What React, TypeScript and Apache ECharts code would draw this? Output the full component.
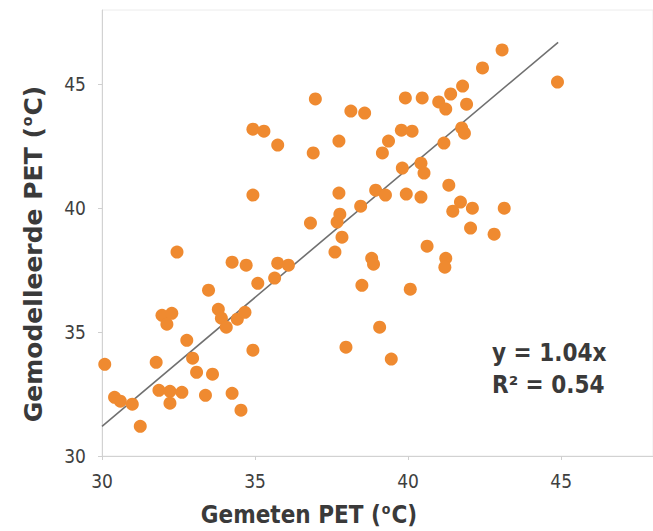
import React, { useEffect, useRef } from "react";
import * as echarts from "echarts";

const xMeasured = [
  30.09, 30.41, 30.6, 30.99, 31.25, 31.77, 31.86, 32.22, 32.22, 32.61,
  31.96, 32.12, 32.28, 32.45, 32.77, 32.96, 33.09, 33.38, 33.48, 33.61,
  33.8, 33.9, 34.06, 34.25, 34.25, 34.42, 34.54, 34.67, 34.71, 34.93,
  35.09, 35.64, 35.74, 36.09, 36.81, 37.61, 37.68, 37.77, 37.84, 37.97,
  38.49, 38.81, 38.87, 39.07, 39.45, 40.07, 40.62, 41.23, 41.2, 42.04,
  42.81, 36.97, 38.13, 38.58, 34.93, 35.29, 35.74, 36.9, 37.74, 34.93,
  37.74, 38.45, 39.91, 39.78, 40.13, 39.36, 39.16, 39.81, 38.94, 39.26,
  39.94, 40.42, 40.46, 41.0, 41.23, 41.39, 41.78, 41.91, 42.43, 43.07,
  44.88, 41.75, 41.84, 41.17, 40.42, 40.52, 41.33, 41.71, 41.46, 42.1,
  43.14,
];
const yModelled = [
  33.7, 32.37, 32.21, 32.09, 31.2, 33.78, 32.65, 32.61, 32.13, 32.57,
  35.68, 35.32, 35.76, 38.23, 34.67, 33.95, 33.38, 32.45, 36.69, 33.3,
  35.92, 35.56, 35.2, 37.82, 32.53, 35.52, 31.85, 35.8, 37.7, 34.27,
  36.97, 37.18, 37.78, 37.7, 39.4, 38.23, 39.44, 39.76, 38.83, 34.39,
  36.89, 37.98, 37.74, 35.2, 33.91, 36.73, 38.47, 37.98, 37.62, 39.2,
  38.95, 44.41, 43.92, 43.84, 43.19, 43.11, 42.55, 42.23, 42.71, 40.53,
  40.61, 40.08, 44.45, 43.15, 43.11, 42.71, 42.23, 41.62, 40.73, 40.53,
  40.57, 40.45, 44.45, 44.29, 44.0, 44.61, 44.93, 44.2, 45.66, 46.39,
  45.09, 43.24, 43.03, 42.63, 41.82, 41.42, 40.93, 40.25, 39.88, 40.0,
  40.0,
];
const xTicks = [30, 35, 40, 45];
const yTicks = [30, 35, 40, 45];
const slope = 1.04;
const trendRange = [30, 44.9];
const equationText = "y = 1.04x";
const r2Text = "R\u00B2 = 0.54";
const xTitle = "Gemeten PET ({s|o}C)";
const yTitle = "Gemodelleerde PET ({s|o}C)";

const FONT = '"DejaVu Sans Condensed", "DejaVu Sans", sans-serif';
const FONT_FULL = '"DejaVu Sans", sans-serif';

export default function App() {
  const ref = useRef<HTMLDivElement>(null);
  useEffect(() => {
    if (!ref.current) return;
    const chart = echarts.init(ref.current, null, { renderer: "svg" });
    const points = xMeasured.map((x, i) => [x, yModelled[i]]);
    const trend = trendRange.map((x) => [x, slope * x]);
    const axisCommon = {
      type: "value" as const,
      min: 30,
      max: 48,
      interval: 5,
      splitLine: { show: false },
      axisLine: { show: true, lineStyle: { color: "#d2d2d2", width: 1 } },
      axisTick: { show: true, length: 4, lineStyle: { color: "#cfcfcf" } },
      axisLabel: {
        color: "#3f3f3f",
        fontFamily: FONT,
        fontSize: 19,
        showMaxLabel: false,
      },
    };
    const titleStyle = (family: string, size: number) => ({
      fontFamily: family,
      fontWeight: "bold" as const,
      fontSize: size,
      fill: "#3a3a3a",
      align: "center" as const,
      verticalAlign: "middle" as const,
      rich: {
        s: {
          fontFamily: family,
          fontWeight: "bold" as const,
          fontSize: Math.round(size * 0.58),
          fill: "#3a3a3a",
          padding: [0, 1, Math.round(size * 0.5), 1],
        },
      },
    });
    chart.setOption({
      animation: false,
      backgroundColor: "#ffffff",
      grid: {
        left: 102,
        top: 10,
        width: 557,
        height: 446,
        show: true,
        borderColor: "#ececec",
        borderWidth: 1,
      },
      xAxis: {
        ...axisCommon,
        axisLabel: {
          ...axisCommon.axisLabel,
          margin: 15,
          formatter: (v: number) => (xTicks.includes(v) ? String(v) : ""),
        },
      },
      yAxis: {
        ...axisCommon,
        axisLabel: {
          ...axisCommon.axisLabel,
          margin: 16,
          formatter: (v: number) => (yTicks.includes(v) ? String(v) : ""),
        },
      },
      series: [
        {
          type: "line",
          data: trend,
          showSymbol: false,
          symbol: "none",
          lineStyle: { color: "#707070", width: 1.6 },
          z: 1,
          silent: true,
        },
        {
          type: "scatter",
          data: points,
          symbolSize: 13,
          itemStyle: { color: "#ef8a30", opacity: 1 },
          z: 2,
        },
      ],
      graphic: [
        {
          type: "text",
          x: 309,
          y: 515,
          style: { text: xTitle, ...titleStyle(FONT, 24) },
        },
        {
          type: "text",
          x: 33,
          y: 254,
          rotation: Math.PI / 2,
          style: { text: yTitle, ...titleStyle(FONT_FULL, 25) },
        },
        {
          type: "text",
          x: 492,
          y: 353,
          style: {
            text: equationText,
            font: `bold 24px ${FONT}`,
            fill: "#3a3a3a",
            align: "left",
            verticalAlign: "middle",
          },
        },
        {
          type: "text",
          x: 492,
          y: 385,
          style: {
            text: r2Text,
            font: `bold 24px ${FONT}`,
            fill: "#3a3a3a",
            align: "left",
            verticalAlign: "middle",
          },
        },
      ],
    });
    return () => chart.dispose();
  }, []);
  return (
    <div
      ref={ref}
      style={{
        position: "absolute",
        left: 0,
        top: 0,
        width: 653,
        height: 531,
        background: "#fff",
      }}
    />
  );
}
